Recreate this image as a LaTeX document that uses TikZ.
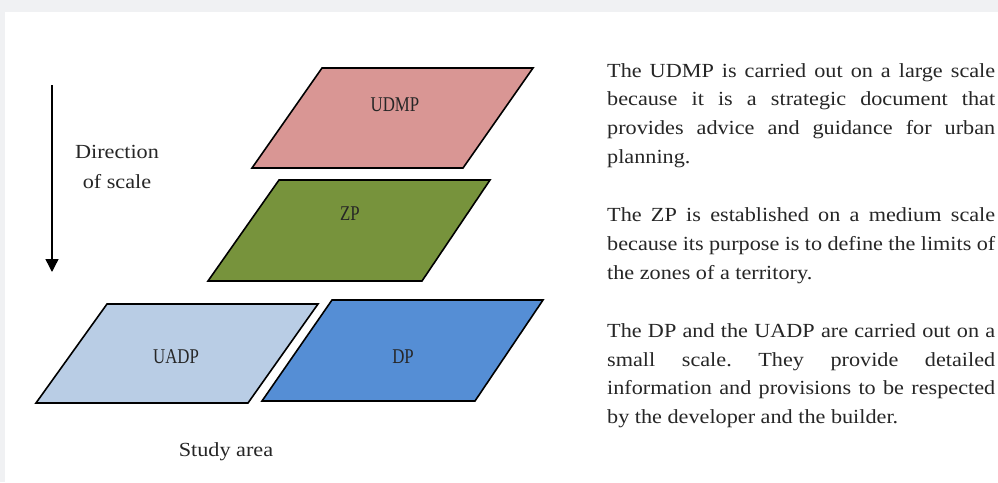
\documentclass[tikz,border=0pt]{standalone}
\usepackage{fontspec}
\setmainfont[FakeStretch=1.11]{Liberation Serif}
\newfontfamily\condfont[FakeStretch=0.8]{Liberation Serif}
\usetikzlibrary{arrows.meta}
\definecolor{bggray}{HTML}{F0F1F3}
\definecolor{cudmp}{HTML}{D99694}
\definecolor{czp}{HTML}{77933C}
\definecolor{cuadp}{HTML}{B9CDE5}
\definecolor{cdp}{HTML}{558ED5}
\definecolor{txt}{HTML}{262626}
\frenchspacing
\begin{document}
\begin{tikzpicture}[x=1pt,y=-1pt,
  plate/.style={draw=black,line width=1.6pt,line join=miter},
  plabel/.style={font=\condfont\fontsize{21}{24}\selectfont,text=txt,inner sep=0pt},
  side/.style={font=\fontsize{20}{30}\selectfont,text=txt,inner sep=0pt}]
\useasboundingbox (0,0) rectangle (998,482);
\fill[bggray] (0,0) rectangle (998,482);
\fill[white] (5,12) rectangle (998,482);
% plates
\filldraw[plate,fill=cudmp] (322,68) -- (533,68) -- (463,168) -- (252,168) -- cycle;
\filldraw[plate,fill=czp] (279,180) -- (490,180) -- (422,281) -- (208,281) -- cycle;
\filldraw[plate,fill=cuadp] (107,304) -- (318,304) -- (248,403) -- (36,403) -- cycle;
\filldraw[plate,fill=cdp] (332,300) -- (543,300) -- (475,401) -- (262,401) -- cycle;
\node[plabel] (udmp) at (395,105) {UDMP};
\node[plabel] (zp) at (350,214) {ZP};
\node[plabel] (uadp) at (176,357) {UADP};
\node[plabel] (dp) at (403,357) {DP};
% direction arrow
\coordinate (a1) at (52,85);
\coordinate (a2) at (52,272);
\draw[line width=1.4pt,-{Triangle[length=13pt,width=13pt]}] (a1) -- (a2);
\node[side] (dir1) at (117,152) {Direction};
\node[side] (dir2) at (117,182) {of scale};
\node[side] (study) at (226,452) {Study area};
% right text
\node[anchor=north west,inner sep=0pt,text width=388pt,align=justify,text=txt,
  font=\fontsize{20}{28.9}\selectfont] (desc) at (607,63) {%
\setlength\parindent{0pt}\frenchspacing
The UDMP is carried out on a large scale\linebreak
because it is a strategic document that\linebreak
provides advice and guidance for urban\linebreak
planning.\par\vskip28.9pt
The ZP is established on a medium scale\linebreak
because its purpose is to define the limits of\linebreak
the zones of a territory.\par\vskip28.9pt
The DP and the UADP are carried out on a\linebreak
small scale. They provide detailed\linebreak
information and provisions to be respected\linebreak
by the developer and the builder.\par};
\end{tikzpicture}
\end{document}
